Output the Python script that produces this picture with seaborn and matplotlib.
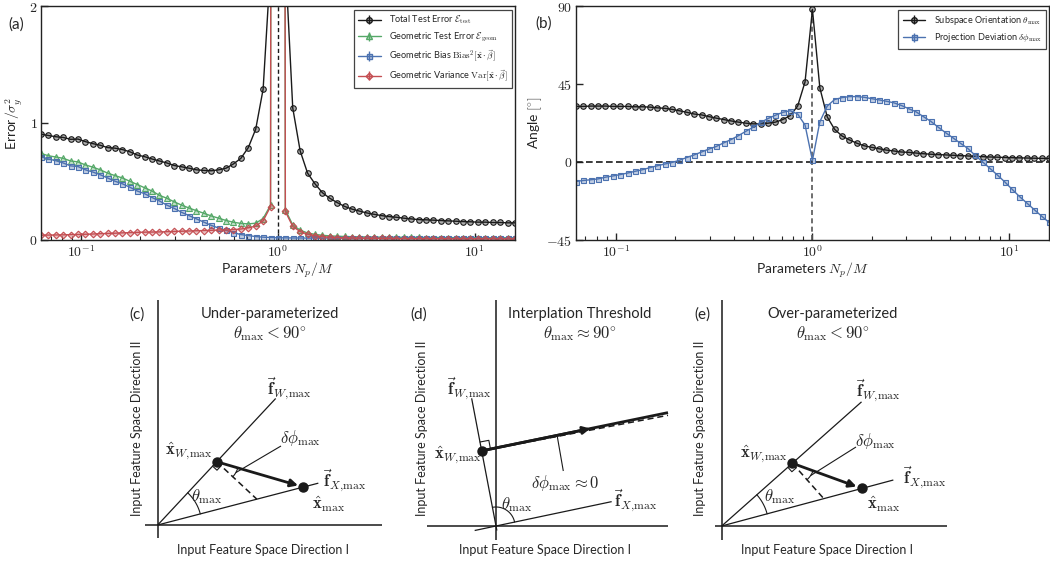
import numpy as np
import pandas as pd
import seaborn as sns
import matplotlib.pyplot as plt
from matplotlib.ticker import NullFormatter

# N_p / M on a 2^(1/8) grid from 1/16 to 16
ratio = [0.0625, 0.0681, 0.0743, 0.0810, 0.0884, 0.0964, 0.1051, 0.1146,
         0.125, 0.1363, 0.1487, 0.1621, 0.1768, 0.1928, 0.2102, 0.2293,
         0.25, 0.2726, 0.2973, 0.3242, 0.3536, 0.3856, 0.4204, 0.4585,
         0.5, 0.5453, 0.5946, 0.6484, 0.7071, 0.7711, 0.8409, 0.9170,
         1.0,
         1.0905, 1.1892, 1.2968, 1.4142, 1.5422, 1.6818, 1.8340, 2.0,
         2.1810, 2.3784, 2.5937, 2.8284, 3.0844, 3.3636, 3.6680, 4.0,
         4.3621, 4.7568, 5.1874, 5.6569, 6.1688, 6.7272, 7.3360, 8.0,
         8.7241, 9.5137, 10.3747, 11.3137, 12.3377, 13.4543, 14.6721, 16.0]

# panel (a): errors / sigma_y^2 (values at N_p = M blow up, off scale)
test_error = [0.904, 0.893, 0.882, 0.876, 0.860, 0.862, 0.840, 0.823,
              0.809, 0.789, 0.784, 0.772, 0.753, 0.725, 0.711, 0.691,
              0.674, 0.657, 0.635, 0.624, 0.612, 0.598, 0.593, 0.590,
              0.598, 0.612, 0.649, 0.697, 0.789, 0.947, 1.290, 2.350,
              60.0,
              2.400, 1.129, 0.761, 0.570, 0.478, 0.402, 0.354, 0.317,
              0.284, 0.261, 0.244, 0.228, 0.216, 0.205, 0.197, 0.191,
              0.183, 0.177, 0.171, 0.169, 0.166, 0.163, 0.160, 0.157,
              0.154, 0.152, 0.149, 0.149, 0.146, 0.146, 0.143, 0.143]
geom_error = [0.739, 0.719, 0.708, 0.697, 0.674, 0.666, 0.640, 0.621,
              0.598, 0.570, 0.548, 0.528, 0.500, 0.472, 0.444, 0.416,
              0.379, 0.354, 0.323, 0.295, 0.270, 0.247, 0.225, 0.202,
              0.183, 0.163, 0.148, 0.138, 0.134, 0.140, 0.180, 0.295,
              60.0,
              0.255, 0.125, 0.080, 0.056, 0.044, 0.036, 0.031, 0.028,
              0.026, 0.024, 0.023, 0.022, 0.021, 0.020, 0.020, 0.019,
              0.019, 0.018, 0.018, 0.017, 0.017, 0.017, 0.016, 0.016,
              0.016, 0.016, 0.015, 0.015, 0.015, 0.015, 0.015, 0.015]
geom_bias = [0.711, 0.691, 0.677, 0.657, 0.632, 0.626, 0.598, 0.579,
             0.556, 0.528, 0.500, 0.478, 0.449, 0.416, 0.393, 0.360,
             0.331, 0.295, 0.267, 0.233, 0.205, 0.177, 0.149, 0.121,
             0.098, 0.079, 0.059, 0.042, 0.034, 0.025, 0.020, 0.017,
             0.015,
             0.014, 0.013, 0.013, 0.012, 0.012, 0.012, 0.012, 0.011,
             0.011, 0.011, 0.011, 0.011, 0.011, 0.011, 0.010, 0.010,
             0.010, 0.010, 0.010, 0.010, 0.010, 0.010, 0.010, 0.010,
             0.010, 0.010, 0.010, 0.010, 0.010, 0.010, 0.010, 0.010]
geom_var = [0.037, 0.038, 0.039, 0.040, 0.042, 0.043, 0.045, 0.047,
            0.050, 0.052, 0.054, 0.057, 0.059, 0.061, 0.063, 0.064,
            0.065, 0.067, 0.069, 0.071, 0.073, 0.075, 0.077, 0.079,
            0.081, 0.082, 0.085, 0.090, 0.100, 0.115, 0.160, 0.283,
            60.0,
            0.241, 0.112, 0.068, 0.045, 0.033, 0.025, 0.020, 0.017,
            0.015, 0.013, 0.012, 0.011, 0.010, 0.009, 0.009, 0.008,
            0.008, 0.008, 0.007, 0.007, 0.007, 0.007, 0.006, 0.006,
            0.006, 0.006, 0.006, 0.006, 0.006, 0.005, 0.005, 0.005]

# panel (b): angles in degrees
theta_max = [32.1, 32.1, 32.3, 32.3, 32.3, 32.1, 32.1, 32.1,
             31.9, 31.9, 31.7, 31.3, 31.0, 30.4, 29.6, 28.7,
             27.7, 27.2, 26.2, 25.3, 24.5, 23.7, 23.0, 22.4,
             22.0, 22.0, 22.4, 23.0, 24.5, 26.8, 32.3, 46.3,
             88.3,
             42.9, 26.0, 18.8, 15.0, 12.7, 10.8, 9.3, 8.4,
             7.6, 6.8, 6.3, 5.7, 5.5, 5.1, 4.7, 4.4,
             4.2, 4.0, 3.8, 3.6, 3.4, 3.2, 3.0, 2.8,
             2.7, 2.5, 2.4, 2.3, 2.2, 2.1, 2.0, 2.0]
dphi_max = [-11.4, -10.8, -10.4, -9.9, -8.9, -8.2, -7.4, -6.5,
            -5.5, -4.6, -3.4, -2.3, -1.3, -0.4, 0.9, 2.5,
            4.0, 5.7, 7.4, 8.9, 11.0, 12.9, 15.2, 17.7,
            20.1, 22.8, 25.1, 27.0, 28.7, 29.6, 27.7, 21.3,
            0.8,
            23.2, 32.3, 36.1, 37.2, 37.8, 37.8, 37.4, 36.6,
            35.9, 35.1, 34.2, 32.7, 30.8, 29.0, 26.2, 23.5,
            20.1, 16.9, 13.9, 10.8, 7.8, 3.8, 0.0, -3.8,
            -7.6, -11.6, -15.9, -20.1, -23.9, -27.7, -31.5, -35.1]

err_labels = [r"Total Test Error $\mathcal{E}_{\mathrm{test}}$",
              r"Geometric Test Error $\mathcal{E}_{\mathrm{geom}}$",
              r"Geometric Bias $\mathrm{Bias}^2[\hat{\mathbf{x}}\cdot\vec{\beta}]$",
              r"Geometric Variance $\mathrm{Var}[\hat{\mathbf{x}}\cdot\vec{\beta}]$"]
ang_labels = [r"Subspace Orientation $\theta_{\max}$",
              r"Projection Deviation $\delta\phi_{\max}$"]

# schematic panels (c)-(e): directions of the two subspaces (deg)
diagram_tags = ["(c)", "(d)", "(e)"]
diagram_titles = ["Under-parameterized", "Interplation Threshold", "Over-parameterized"]
diagram_conds = [r"$\theta_{\max} < 90^{\circ}$", r"$\theta_{\max} \approx 90^{\circ}$",
                 r"$\theta_{\max} < 90^{\circ}$"]
fx_angle = [14.6, 11.9, 15.0]
fw_angle = [47.0, 100.8, 41.6]

sns.set_theme(style="ticks")
plt.rcParams['font.family'] = ['Lato', 'DejaVu Sans']
plt.rcParams['mathtext.fontset'] = 'cm'

black, green, blue, red = "#1a1a1a", "#55a868", "#4c72b0", "#c44e52"

fig = plt.figure(figsize=(10.5, 5.63), dpi=100)
ax_a = fig.add_axes([0.0390, 0.5746, 0.4514, 0.4139])
ax_b = fig.add_axes([0.5484, 0.5746, 0.4507, 0.4139])

err_df = pd.DataFrame({"ratio": ratio, "test": test_error, "geom": geom_error,
                       "bias": geom_bias, "var": geom_var})
ang_df = pd.DataFrame({"ratio": ratio, "theta": theta_max, "dphi": dphi_max})


def light(c, a=0.35):
    r, g, b = plt.matplotlib.colors.to_rgb(c)
    return (r, g, b, a)


def draw_series(ax, df, cols, colors, markers, sizes):
    handles = []
    for col, c, m, s in zip(cols, colors, markers, sizes):
        sns.lineplot(data=df, x="ratio", y=col, ax=ax, color=c, marker=m,
                     markersize=s, markerfacecolor=light(c), markeredgecolor=c,
                     markeredgewidth=0.8, linewidth=1.0, errorbar=None, legend=False)
        # legend proxy drawn like an errorbar entry
        h = ax.errorbar([], [], yerr=[], color=c, marker=m, markersize=s,
                        markerfacecolor=light(c), markeredgecolor=c, lw=1.0)
        handles.append(h)
    return handles


def add_legend(ax, handles, labels):
    leg = ax.legend(handles, labels, loc="upper right", fontsize=6.6,
                    labelspacing=0.5, handlelength=2.5, handletextpad=0.9,
                    borderpad=0.45, borderaxespad=0.35, fancybox=False,
                    edgecolor="#444444", framealpha=1)
    leg.get_frame().set_linewidth(0.9)


h_a = draw_series(ax_a, err_df, ["test", "geom", "bias", "var"],
                  [black, green, blue, red], ["o", "^", "s", "D"],
                  [4, 4, 3.6, 3.4])
ax_a.axvline(1.0, color="k", ls="--", lw=1.0, dashes=(3, 2), zorder=1)
ax_a.set_ylim(0, 2)
ax_a.set_yticks([0, 1, 2], labels=["$0$", "$1$", "$2$"])
ax_a.set_ylabel(r"Error$/\sigma_y^2$", fontsize=10)
ax_a.yaxis.set_label_coords(-0.034, 0.5)
add_legend(ax_a, h_a, err_labels)

h_b = draw_series(ax_b, ang_df, ["theta", "dphi"], [black, blue], ["o", "s"],
                  [4, 3.6])
ax_b.axvline(1.0, color="#555555", ls="--", lw=1.2, dashes=(3, 2), zorder=1)
ax_b.axhline(0.0, color="k", ls="--", lw=1.2, dashes=(4, 2), zorder=1)
ax_b.set_ylim(-45, 90)
ax_b.set_yticks([-45, 0, 45, 90], labels=["$-45$", "$0$", "$45$", "$90$"])
ax_b.set_ylabel(r"Angle $[^{\circ}]$", fontsize=10)
ax_b.yaxis.set_label_coords(-0.067, 0.5)
add_legend(ax_b, h_b, ang_labels)

for ax in (ax_a, ax_b):
    ax.set_xscale("log")
    ax.set_xlim(1 / 16, 16)
    ax.set_xticks([0.1, 1, 10], labels=["$10^{-1}$", "$10^{0}$", "$10^{1}$"])
    ax.xaxis.set_minor_formatter(NullFormatter())
    ax.set_xlabel(r"Parameters $N_p/M$", fontsize=10)
    ax.xaxis.set_label_coords(0.5, -0.09)
    ax.xaxis.label.set_va("top")
    ax.tick_params(which="major", direction="in", length=5, width=1.0,
                   labelsize=10, top=False, right=False, pad=2.5)
    ax.tick_params(which="minor", direction="in", length=3, width=0.8,
                   top=False, right=False)
    for sp in ax.spines.values():
        sp.set_linewidth(1.0)
        sp.set_color("#222222")

fig.text(16 / 1050, 1 - 24.5 / 563, "(a)", ha="center", va="center", fontsize=11)
fig.text(543.5 / 1050, 1 - 24 / 563, "(b)", ha="center", va="center", fontsize=11)

# ---- schematic panels, drawn in pixel units on an overlay axes ----
ov = fig.add_axes([0, 0, 1, 273 / 563])
ov.set_xlim(0, 1050)
ov.set_ylim(563, 290)
ov.axis("off")

MATH = 12


def u(deg):
    a = np.deg2rad(deg)
    return np.array([np.cos(a), -np.sin(a)])


def seg(p0, p1, **kw):
    ov.plot([p0[0], p1[0]], [p0[1], p1[1]], color="k", solid_capstyle="butt", **kw)


def arc(c, r, a0, a1, **kw):
    t = np.deg2rad(np.linspace(a0, a1, 40))
    ov.plot(c[0] + r * np.cos(t), c[1] - r * np.sin(t), color="k", lw=0.8, **kw)


def corner(p, d1, d2, s):
    pts = np.array([p + s * d1, p + s * d1 + s * d2, p + s * d2])
    ov.plot(pts[:, 0], pts[:, 1], color="k", lw=0.8)


layout = [
    dict(o=(157.7, 525), h=(145, 382), v=(300, 538), fx=(0, 166), fw=(0, 173),
         xw=86.5, xm=150.6, th_r=44, tag=(137.5, 315), title=(270, 314),
         ylab=(136.7, 428), xlab=(263.3, 550), lfw=(289, 388), lxw=(189, 451),
         lfx=(345, 480), lxm=(329, 504), lth=(206.7, 497), ldp=(300, 438),
         lead=(281, 446)),
    dict(o=(496, 526), h=(426.7, 668), v=(300, 540), fx=(-21.8, 118.2), fw=(-4.6, 130),
         xw=76.5, xm=None, th_r=19, tag=(419, 315), title=(580, 314),
         ylab=(421.7, 428), xlab=(545, 550), lfw=(469, 388), lxw=(458, 455),
         lfx=(636, 500), lxm=None, lth=(517, 505), ldp=(565, 483),
         lead=(563.3, 471)),
    dict(o=(721.7, 526), h=(715, 946.7), v=(300, 540), fx=(0, 177.7), fw=(0, 187),
         xw=94.5, xm=145, th_r=47, tag=(702.5, 315), title=(833, 314),
         ylab=(700, 428), xlab=(826.7, 550), lfw=(878, 390), lxw=(764, 454),
         lfx=(925, 477), lxm=(884, 504), lth=(780, 497), ldp=(875, 441),
         lead=(856, 447)),
]

for i, L in enumerate(layout):
    O = np.array(L["o"])
    fx, fw = u(fx_angle[i]), u(fw_angle[i])
    perp = fw_angle[i] - 90
    theta = fw_angle[i] - fx_angle[i]
    # coordinate axes
    seg((L["h"][0], O[1]), (L["h"][1], O[1]), lw=1.1)
    seg((O[0], L["v"][0]), (O[0], L["v"][1]), lw=1.1)
    # subspace directions
    seg(O + L["fx"][0] * fx, O + L["fx"][1] * fx, lw=0.9)
    seg(O + L["fw"][0] * fw, O + L["fw"][1] * fw, lw=0.9)
    arc(O, L["th_r"], fx_angle[i], fw_angle[i])
    xw = O + L["xw"] * fw
    if L["xm"] is not None:
        xm = O + L["xm"] * fx
        foot = O + L["xw"] / np.cos(np.deg2rad(theta)) * fx
        ov.plot([xw[0], foot[0]], [xw[1], foot[1]], color="k", lw=1.1, ls="--", dashes=(4, 2.5))
        ov.annotate("", xy=xm, xytext=xw,
                    arrowprops=dict(arrowstyle="-|>", color="k", lw=2.0,
                                    mutation_scale=11, shrinkA=0, shrinkB=4))
        d = xm - xw
        a_ang = np.degrees(np.arctan2(-d[1], d[0]))
        ov.plot(*xm, "o", color="k", ms=6.5)
        corner(xw, u(fw_angle[i] + 180), u(perp), 6)
        arc(xw, 22, perp, a_ang)
        p0 = xw + 22 * u((perp + a_ang) / 2)
        seg(p0, L["lead"], lw=0.8)
        ov.text(*L["lxm"], r"$\hat{\mathbf{x}}_{\max}$", ha="center", va="center", fontsize=MATH)
        ov.text(*L["ldp"], r"$\delta\phi_{\max}$", ha="center", va="center", fontsize=MATH)
    else:
        a_ang = perp + 0.8
        x_end = L["h"][1]
        far = xw + (x_end - xw[0]) / np.cos(np.deg2rad(a_ang)) * u(a_ang)
        seg(xw, far, lw=2.0)
        ov.annotate("", xy=xw + 111 * u(a_ang), xytext=xw,
                    arrowprops=dict(arrowstyle="-|>", color="k", lw=2.0,
                                    mutation_scale=11, shrinkA=0, shrinkB=0))
        far2 = xw + (x_end - xw[0]) / np.cos(np.deg2rad(perp)) * u(perp)
        ov.plot([xw[0], far2[0]], [xw[1], far2[1]], color="k", lw=1.1, ls="--", dashes=(4, 2.5))
        corner(xw, u(fw_angle[i]), u(perp), 9)
        seg(xw + 77 * u(a_ang), L["lead"], lw=0.8)
        ov.text(*L["ldp"], r"$\delta\phi_{\max} \approx 0$", ha="center", va="center", fontsize=MATH)
    ov.plot(*xw, "o", color="k", ms=6.5)

    ov.text(*L["lfw"], r"$\vec{\mathbf{f}}_{W,\!\max}$", ha="center", va="center", fontsize=MATH)
    ov.text(*L["lxw"], r"$\hat{\mathbf{x}}_{W,\!\max}$", ha="center", va="center", fontsize=MATH)
    ov.text(*L["lfx"], r"$\vec{\mathbf{f}}_{X,\!\max}$", ha="center", va="center", fontsize=MATH)
    ov.text(*L["lth"], r"$\theta_{\max}$", ha="center", va="center", fontsize=MATH)
    ov.text(*L["tag"], diagram_tags[i], ha="center", va="center", fontsize=11)
    ov.text(*L["title"], diagram_titles[i], ha="center", va="center", fontsize=10.5)
    ov.text(L["title"][0], L["title"][1] + 19.5, diagram_conds[i], ha="center",
            va="center", fontsize=MATH)
    ov.text(*L["ylab"], "Input Feature Space Direction II", rotation=90,
            ha="center", va="center", fontsize=9)
    ov.text(*L["xlab"], "Input Feature Space Direction I", ha="center",
            va="center", fontsize=9)

fig.savefig("out.png", dpi=100)
